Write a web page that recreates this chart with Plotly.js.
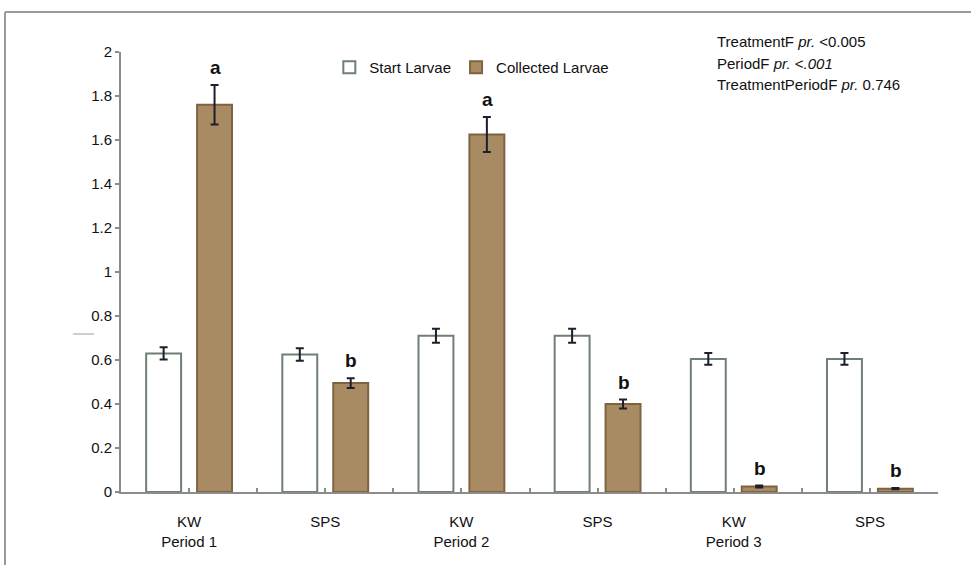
<!DOCTYPE html>
<html>
<head>
<meta charset="utf-8">
<script src="https://cdn.plot.ly/plotly-3.0.1.min.js"></script>
<style>
html,body{margin:0;padding:0;background:#fff;}
#chart{width:971px;height:565px;}
</style>
</head>
<body>
<div id="chart"></div>
<script>
// ---- data ----
const categories = ["KW<br>Period 1", "SPS", "KW<br>Period 2", "SPS", "KW<br>Period 3", "SPS"];
const startLarvae = [0.63, 0.625, 0.71, 0.71, 0.605, 0.605];
const startErr = [0.028, 0.028, 0.032, 0.032, 0.027, 0.027];
const collectedLarvae = [1.76, 0.495, 1.625, 0.40, 0.025, 0.015];
const collectedErr = [0.09, 0.022, 0.08, 0.02, 0.004, 0.003];
const sigLetters = ["a", "b", "a", "b", "b", "b"];
const yTicks = [0, 0.2, 0.4, 0.6, 0.8, 1, 1.2, 1.4, 1.6, 1.8, 2];
const statLines = [
  "TreatmentF <i>pr.</i> &lt;0.005",
  "PeriodF <i>pr.</i> &lt;<i>.001</i>",
  "TreatmentPeriodF <i>pr.</i> 0.746"
];

const xIdx = categories.map((_, i) => i);
const FONT = "Liberation Sans, Arial, sans-serif";

const traces = [
  {
    type: "bar", name: "Start Larvae", x: xIdx, y: startLarvae,
    marker: {color: "#ffffff", line: {color: "#6f7f73", width: 2}},
    error_y: {type: "data", array: startErr, visible: true, color: "#1e1e2d", thickness: 2, width: 4}
  },
  {
    type: "bar", name: "Collected Larvae", x: xIdx, y: collectedLarvae,
    marker: {color: "#a98b63", line: {color: "#7e6342", width: 2}},
    error_y: {type: "data", array: collectedErr, visible: true, color: "#1e1e2d", thickness: 2, width: 4}
  }
];

const annotations = [];
sigLetters.forEach((l, i) => {
  annotations.push({
    x: i, y: collectedLarvae[i] + collectedErr[i], xref: "x", yref: "y",
    text: "<b>" + l + "</b>", showarrow: false, xshift: 26, yshift: 5,
    yanchor: "bottom", font: {family: FONT, size: 19, color: "#111"}
  });
});
const statY = [1.025, 0.975, 0.925];
statLines.forEach((t, i) => {
  annotations.push({
    x: 0.727, y: statY[i], xref: "paper", yref: "paper", xanchor: "left", yanchor: "middle",
    text: t, showarrow: false, font: {family: FONT, size: 15, color: "#111"}
  });
});
// tiny scribble text near the y axis
annotations.push({
  x: -0.061, y: 0.358, xref: "paper", yref: "paper", text: "xxxxxxxxxxxxxx", showarrow: false,
  font: {family: FONT, size: 3, color: "#777"}
});

const layout = {
  width: 971, height: 565,
  margin: {l: 121, r: 33, t: 52, b: 73, pad: 0},
  paper_bgcolor: "#ffffff", plot_bgcolor: "#ffffff",
  barmode: "group", bargap: 0.252, bargroupgap: 0.314,
  font: {family: FONT, size: 15, color: "#111"},
  showlegend: true,
  legend: {orientation: "h", x: 0.255, y: 0.965, xanchor: "left", yanchor: "middle",
           font: {family: FONT, size: 15, color: "#111"}, bgcolor: "rgba(0,0,0,0)", itemwidth: 30},
  xaxis: {
    range: [-0.5, 5.5], tickmode: "array", tickvals: xIdx, ticktext: categories,
    ticks: "inside", ticklen: 4, tickwidth: 2, tickcolor: "#8c8c8c",
    minor: {dtick: 0.5, tick0: -0.5, ticks: "inside", ticklen: 4, tickwidth: 2, tickcolor: "#8c8c8c"},
    showline: true, linecolor: "#8c8c8c", linewidth: 2, showgrid: false, zeroline: false,
    tickfont: {family: FONT, size: 15, color: "#111"}, ticklabelstandoff: 15, fixedrange: true
  },
  yaxis: {
    range: [0, 2], tickmode: "array", tickvals: yTicks,
    ticks: "outside", ticklen: 4, tickwidth: 2, tickcolor: "#8c8c8c",
    showline: true, linecolor: "#8c8c8c", linewidth: 2, showgrid: false, zeroline: false,
    tickfont: {family: FONT, size: 15, color: "#111"}, fixedrange: true
  },
  annotations: annotations,
  shapes: [
    {type: "line", xref: "paper", yref: "paper", x0: -0.142, x1: 1.05, y0: 1.0909, y1: 1.0909,
     line: {color: "#9a9a9a", width: 2}},
    {type: "line", xref: "paper", yref: "paper", x0: -0.142, x1: -0.142, y0: 1.0909, y1: -0.2,
     line: {color: "#9a9a9a", width: 2}}
  ]
};

Plotly.newPlot("chart", traces, layout, {displayModeBar: false, staticPlot: true});
</script>
</body>
</html>
